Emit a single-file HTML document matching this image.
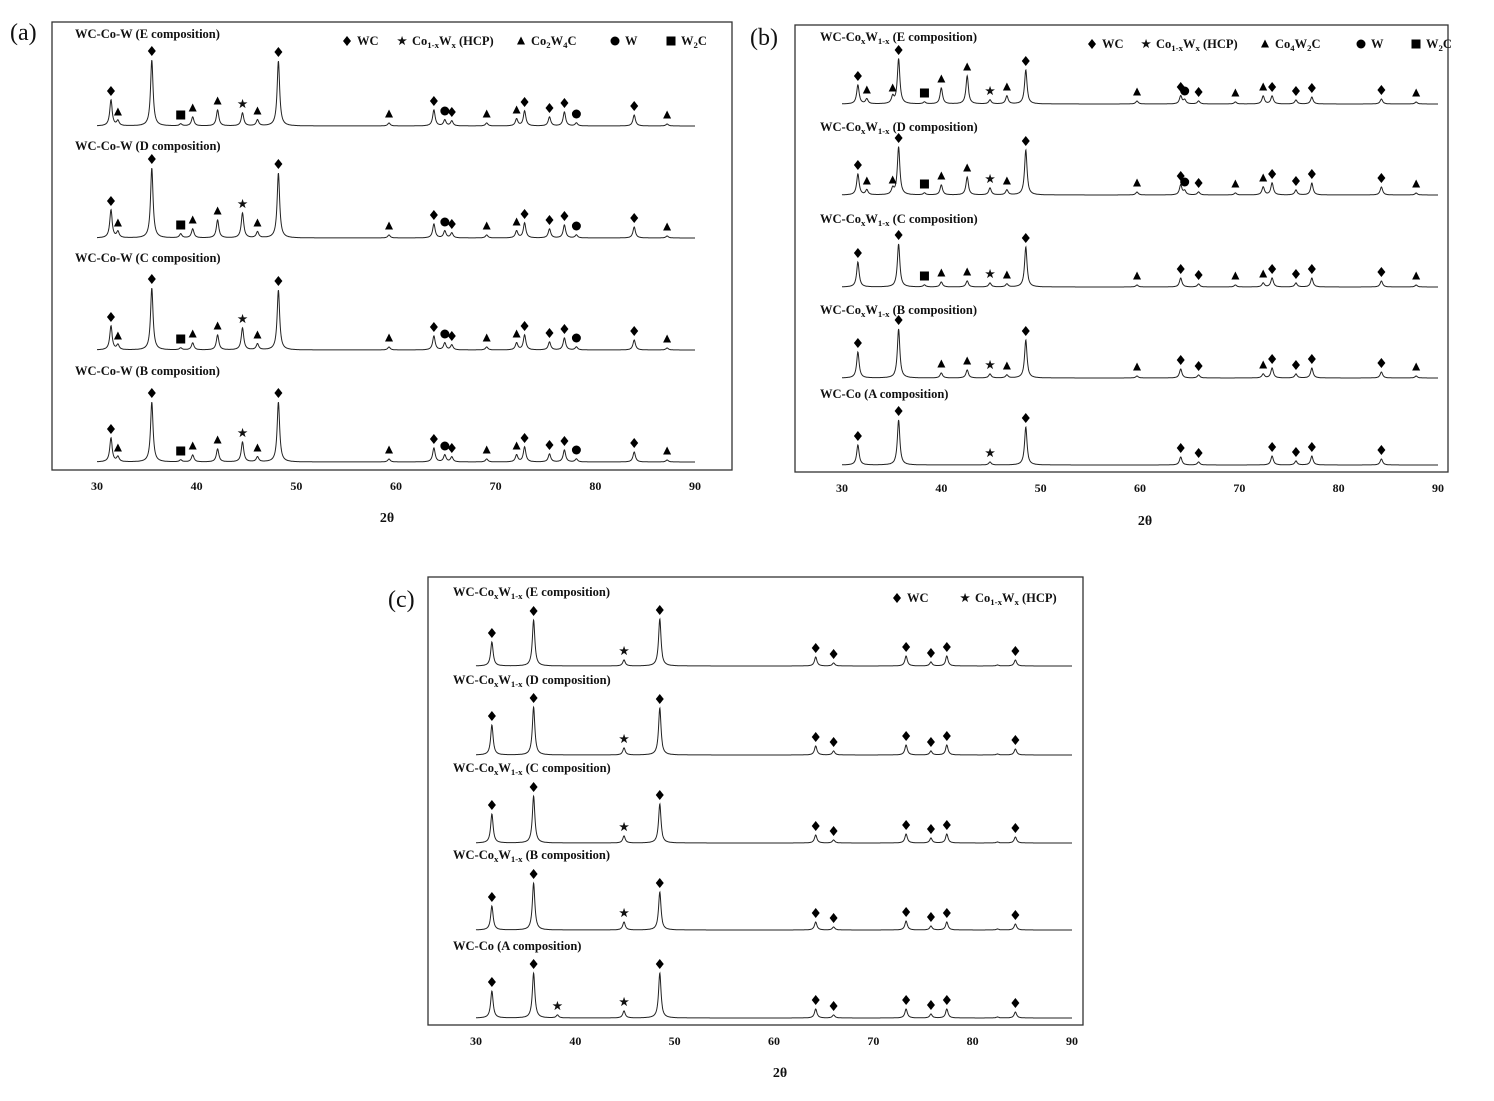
<!DOCTYPE html>
<html><head><meta charset="utf-8"><style>
html,body{margin:0;padding:0;background:#fff;}
svg text{font-family:"Liberation Serif",serif;font-weight:bold;fill:#111;}
</style></head><body>
<svg id="fig" width="1494" height="1096" viewBox="0 0 1494 1096" xmlns="http://www.w3.org/2000/svg"></svg>
<script>
// ---- data: peaks [2theta, intensity, phase] ----
const tickLabels = [30,40,50,60,70,80,90];
const aE = [[31.4,26,'d'],[32.1,5,'t'],[35.5,66,'d'],[38.4,2,'s'],[39.6,9,'t'],[42.1,16,'t'],[44.6,13,'st'],[46.1,6,'t'],[48.2,65,'d'],[59.3,3,'t'],[63.8,16,'d'],[64.9,6,'c'],[65.6,5,'d'],[69.1,3,'t'],[72.1,7,'t'],[72.9,15,'d'],[75.4,9,'d'],[76.9,14,'d'],[78.1,3,'c'],[83.9,11,'d'],[87.2,2,'t']];
const aD = [[31.4,28,'d'],[32.1,6,'t'],[35.5,70,'d'],[38.4,4,'s'],[39.6,9,'t'],[42.1,18,'t'],[44.6,25,'st'],[46.1,6,'t'],[48.2,65,'d'],[59.3,3,'t'],[63.8,14,'d'],[64.9,7,'c'],[65.6,5,'d'],[69.1,3,'t'],[72.1,7,'t'],[72.9,15,'d'],[75.4,9,'d'],[76.9,13,'d'],[78.1,3,'c'],[83.9,11,'d'],[87.2,2,'t']];
const aC = [[31.4,24,'d'],[32.1,5,'t'],[35.5,62,'d'],[38.4,2,'s'],[39.6,7,'t'],[42.1,15,'t'],[44.6,22,'st'],[46.1,6,'t'],[48.2,60,'d'],[59.3,3,'t'],[63.8,14,'d'],[64.9,7,'c'],[65.6,5,'d'],[69.1,3,'t'],[72.1,7,'t'],[72.9,15,'d'],[75.4,8,'d'],[76.9,12,'d'],[78.1,3,'c'],[83.9,10,'d'],[87.2,2,'t']];
const aB = [[31.4,24,'d'],[32.1,5,'t'],[35.5,60,'d'],[38.4,2,'s'],[39.6,7,'t'],[42.1,13,'t'],[44.6,20,'st'],[46.1,5,'t'],[48.2,60,'d'],[59.3,3,'t'],[63.8,14,'d'],[64.9,7,'c'],[65.6,5,'d'],[69.1,3,'t'],[72.1,7,'t'],[72.9,15,'d'],[75.4,8,'d'],[76.9,12,'d'],[78.1,3,'c'],[83.9,10,'d'],[87.2,2,'t']];
const bE = [[31.6,19,'d'],[32.5,5,'t'],[35.1,7,'t'],[35.7,45,'d'],[38.3,2,'s'],[40.0,16,'t'],[42.6,28,'t'],[44.9,4,'st'],[46.6,8,'t'],[48.5,34,'d'],[59.7,3,'t'],[64.1,8,'d'],[64.5,4,'c'],[65.9,3,'d'],[69.6,2,'t'],[72.4,8,'t'],[73.3,8,'d'],[75.7,4,'d'],[77.3,7,'d'],[84.3,5,'d'],[87.8,2,'t']];
const bD = [[31.6,21,'d'],[32.5,5,'t'],[35.1,6,'t'],[35.7,48,'d'],[38.3,2,'s'],[40.0,10,'t'],[42.6,18,'t'],[44.9,7,'st'],[46.6,5,'t'],[48.5,45,'d'],[59.7,3,'t'],[64.1,10,'d'],[64.5,4,'c'],[65.9,3,'d'],[69.6,2,'t'],[72.4,8,'t'],[73.3,12,'d'],[75.7,5,'d'],[77.3,12,'d'],[84.3,8,'d'],[87.8,2,'t']];
const bC = [[31.6,25,'d'],[35.7,43,'d'],[38.3,2,'s'],[40.0,5,'t'],[42.6,6,'t'],[44.9,4,'st'],[46.6,3,'t'],[48.5,40,'d'],[59.7,2,'t'],[64.1,9,'d'],[65.9,3,'d'],[69.6,2,'t'],[72.4,4,'t'],[73.3,9,'d'],[75.7,4,'d'],[77.3,9,'d'],[84.3,6,'d'],[87.8,2,'t']];
const bB = [[31.6,26,'d'],[35.7,49,'d'],[40.0,5,'t'],[42.6,8,'t'],[44.9,4,'st'],[46.6,3,'t'],[48.5,38,'d'],[59.7,2,'t'],[64.1,9,'d'],[65.9,3,'d'],[72.4,4,'t'],[73.3,10,'d'],[75.7,4,'d'],[77.3,10,'d'],[84.3,6,'d'],[87.8,2,'t']];
const bA = [[31.6,20,'d'],[35.7,45,'d'],[44.9,3,'st'],[48.5,38,'d'],[64.1,8,'d'],[65.9,3,'d'],[73.3,9,'d'],[75.7,4,'d'],[77.3,9,'d'],[84.3,6,'d']];
const cE = [[31.6,24,'d'],[35.8,46,'d'],[44.9,6,'st'],[48.5,47,'d'],[64.2,9,'d'],[66.0,3,'d'],[73.3,10,'d'],[75.8,4,'d'],[77.4,10,'d'],[82.5,1,''],[84.3,6,'d']];
const cD = [[31.6,30,'d'],[35.8,48,'d'],[44.9,7,'st'],[48.5,47,'d'],[64.2,9,'d'],[66.0,4,'d'],[73.3,10,'d'],[75.8,4,'d'],[77.4,10,'d'],[82.5,1,''],[84.3,6,'d']];
const cC = [[31.6,29,'d'],[35.8,47,'d'],[44.9,7,'st'],[48.5,39,'d'],[64.2,8,'d'],[66.0,3,'d'],[73.3,9,'d'],[75.8,5,'d'],[77.4,9,'d'],[82.5,1,''],[84.3,6,'d']];
const cB = [[31.6,24,'d'],[35.8,47,'d'],[44.9,8,'st'],[48.5,38,'d'],[64.2,8,'d'],[66.0,3,'d'],[73.3,9,'d'],[75.8,4,'d'],[77.4,8,'d'],[82.5,1,''],[84.3,6,'d']];
const cA = [[31.6,27,'d'],[35.8,45,'d'],[38.2,3,'st'],[44.9,7,'st'],[48.5,45,'d'],[64.2,9,'d'],[66.0,3,'d'],[73.3,9,'d'],[75.8,4,'d'],[77.4,9,'d'],[82.5,1,''],[84.3,6,'d']];

const NS='http://www.w3.org/2000/svg';
const svg=document.getElementById('fig');
function el(tag,attrs,parent){const e=document.createElementNS(NS,tag);for(const k in attrs)e.setAttribute(k,attrs[k]);(parent||svg).appendChild(e);return e;}
function marker(g,type,cx,cy){
  let m;
  if(type==='d'){m=el('polygon',{points:`${cx},${cy-5} ${cx+4},${cy} ${cx},${cy+5} ${cx-4},${cy}`,fill:'#000'},g);}
  else if(type==='t'){m=el('polygon',{points:`${cx},${cy-4.5} ${cx+4},${cy+3.5} ${cx-4},${cy+3.5}`,fill:'#000'},g);}
  else if(type==='c'){m=el('circle',{cx:cx,cy:cy,r:4.5,fill:'#000'},g);}
  else if(type==='s'){m=el('rect',{x:cx-4.5,y:cy-4.5,width:9,height:9,fill:'#000'},g);}
  else if(type==='st'){m=el('text',{x:cx,y:cy+3.5,'text-anchor':'middle','font-size':11},g);m.textContent='★';}
  if(m){}
}
// parts: [text, dy, isSub]
function label(g,x,y,parts,size){
  const t=el('text',{x:x,y:y,'font-size':size},g);
  parts.forEach(p=>{const s=el('tspan',{},t);if(p[2])s.setAttribute('font-size',size*0.7);if(p[1])s.setAttribute('dy',p[1]);s.textContent=p[0];});
  return t;
}
function panel(cfg){
  const g=el('g',{});
  
  
  const fr=el('rect',{x:cfg.fx,y:cfg.fy,width:cfg.fw,height:cfg.fh,fill:'none',stroke:'#333','stroke-width':1.3},g);
  
  
  const sx=v=>cfg.x0+(v-30)*(cfg.x1-cfg.x0)/60;
  tickLabels.forEach(v=>{const t=el('text',{x:sx(v),y:cfg.fy+cfg.fh+20,'text-anchor':'middle','font-size':12},g);t.textContent=v;
    });
  const xt=el('text',{x:cfg.xtx,y:cfg.xty,'text-anchor':'middle','font-size':14},g);xt.textContent='2θ';
  
  const pl=el('text',{x:cfg.plx,y:cfg.ply,'font-size':24},g);pl.textContent=cfg.pl;pl.style.fontWeight='normal';
  
  cfg.traces.forEach(tr=>{
    const peaks=tr.peaks;const w=0.15;let d='';
    for(let v=30;v<=90.001;v+=0.03){let y=0;peaks.forEach(p=>{const u=(v-p[0])/w;y+=p[1]/(1+u*u);});
      d+=(d?'L':'M')+sx(v).toFixed(1)+','+(tr.base-y).toFixed(1);}
    const path=el('path',{d:d,fill:'none',stroke:'#222','stroke-width':1},g);
    
    
    peaks.forEach(p=>{if(p[2])marker(g,p[2],sx(p[0]),tr.base-p[1]-9);});
    const lb=label(g,cfg.lx,tr.ly,tr.lab,12.5);
    
    
  });
  const lg=el('g',{},g);
  
  
  cfg.legend.forEach(it=>{marker(lg,it[0],it[1],cfg.legY-4);const t=label(lg,it[1]+10,cfg.legY,it[2],12.5);
    });
}
function lbX(c){return [['WC-Co'],['x',3,1],['W',-3],['1-x',3,1],[' ('+c+' composition)',-3]];}
function lbA(c){return [['WC-Co-W ('+c+' composition)']];}
const coHCP=[['Co'],['1-x',3,1],['W',-3],['x',3,1],[' (HCP)',-3]];
panel({name:'panel-a',fx:52,fy:22,fw:680,fh:448,x0:97,x1:695,xtx:387,xty:522,pl:'(a)',plx:10,ply:40,lx:75,legY:45,
  legend:[['d',347,[['WC']]],['st',402,coHCP],['t',521,[['Co'],['2',3,1],['W',-3],['4',3,1],['C',-3]]],['c',615,[['W']]],['s',671,[['W'],['2',3,1],['C',-3]]]],
  traces:[{peaks:aE,base:126,ly:38,lab:lbA('E')},{peaks:aD,base:238,ly:150,lab:lbA('D')},{peaks:aC,base:350,ly:262,lab:lbA('C')},{peaks:aB,base:462,ly:375,lab:lbA('B')}]});
panel({name:'panel-b',fx:795,fy:25,fw:653,fh:447,x0:842,x1:1438,xtx:1145,xty:525,pl:'(b)',plx:750,ply:45,lx:820,legY:48,
  legend:[['d',1092,[['WC']]],['st',1146,coHCP],['t',1265,[['Co'],['4',3,1],['W',-3],['2',3,1],['C',-3]]],['c',1361,[['W']]],['s',1416,[['W'],['2',3,1],['C',-3]]]],
  traces:[{peaks:bE,base:104,ly:41,lab:lbX('E')},{peaks:bD,base:195,ly:131,lab:lbX('D')},{peaks:bC,base:287,ly:223,lab:lbX('C')},{peaks:bB,base:378,ly:314,lab:lbX('B')},{peaks:bA,base:465,ly:398,lab:[['WC-Co (A composition)']]}]});
panel({name:'panel-c',fx:428,fy:577,fw:655,fh:448,x0:476,x1:1072,xtx:780,xty:1077,pl:'(c)',plx:388,ply:607,lx:453,legY:602,
  legend:[['d',897,[['WC']]],['st',965,coHCP]],
  traces:[{peaks:cE,base:666,ly:596,lab:lbX('E')},{peaks:cD,base:755,ly:684,lab:lbX('D')},{peaks:cC,base:843,ly:772,lab:lbX('C')},{peaks:cB,base:930,ly:859,lab:lbX('B')},{peaks:cA,base:1018,ly:950,lab:[['WC-Co (A composition)']]}]});
</script>
</body></html>
